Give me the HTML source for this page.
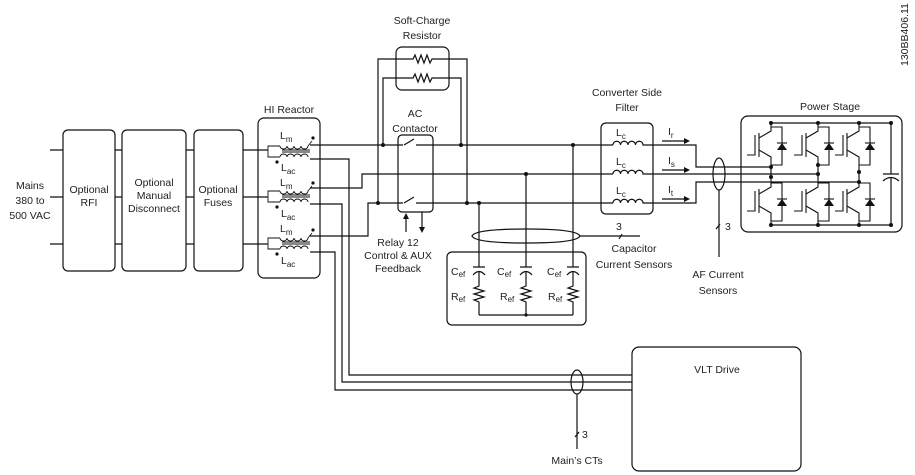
<!DOCTYPE html>
<html><head><meta charset="utf-8"><style>
html,body{margin:0;padding:0;background:#fff;}
svg{display:block;}
text{font-family:"Liberation Sans",sans-serif;font-size:10.5px;fill:#222;}
</style></head><body>
<svg width="915" height="475" viewBox="0 0 915 475" xmlns="http://www.w3.org/2000/svg">
<defs>
<g id="igbt">
<g fill="none" stroke="#111" stroke-width="1.1">
<path d="M0,0 V8 L-12,15"/>
<path d="M-12,10 V34"/>
<path d="M-16,12 V32 H-24"/>
<path d="M-12,27 L0,34 V46"/>
<path d="M0,4 H11 V42 H0"/>
<path d="M6,20 H16"/>
</g>
<polygon points="11,20 6,27 16,27" fill="#111"/>
</g>
<g id="lm">
<g fill="none" stroke="#111" stroke-width="0.9">
<path fill="none" d="M12,-4 a3.5,3 0 0 0 7,0 a3.5,3 0 0 0 7,0 a3.5,3 0 0 0 7,0 a3.5,3 0 0 0 7,0 L44,-9"/>
<path fill="none" d="M14,0 H42 M14,2 H42"/>
<path fill="none" d="M12,7 a3.5,3 0 0 1 7,0 a3.5,3 0 0 1 7,0 a3.5,3 0 0 1 7,0 a3.5,3 0 0 1 7,0"/>
<path fill="none" d="M12,-4 H0 V7 H12"/>
</g>
</g>
</defs>
<g fill="none" stroke="#111" stroke-width="1.2">
<rect x="63" y="130" width="52" height="141" rx="5"/>
<rect x="122" y="130" width="64" height="141" rx="5"/>
<rect x="194" y="130" width="49" height="141" rx="5"/>
<rect x="258" y="118" width="62" height="160" rx="6"/>
<path d="M50,150 H63 M115,150 H122 M186,150 H194 M243,150 H268"/>
<path d="M50,197 H63 M115,197 H122 M186,197 H194 M243,197 H268"/>
<path d="M50,244 H63 M115,244 H122 M186,244 H194 M243,244 H268"/>
<rect x="396" y="47" width="53" height="43" rx="6"/>
<path d="M378,203 V59 H413 l2,-4 l3,8 l3,-8 l3,8 l3,-8 l3,8 l2,-4 H467 V203"/>
<path d="M383,145 V78 H413 l2,-4 l3,8 l3,-8 l3,8 l3,-8 l3,8 l2,-4 H461 V145"/>
<rect x="398" y="135" width="35" height="77" rx="4"/>
<path d="M406,232 V216 M422,212 V230"/>
<path d="M310,145 H403 M404,145 L414,139 M416,145 H613"/>
<path d="M310,188 H362 V174 H613"/>
<path d="M310,236 H368 V203 H403 M404,203 L414,197 M416,203 H613"/>
<path d="M310,159 H349 V375 H632"/>
<path d="M310,204 H342 V382 H632"/>
<path d="M310,252 H335 V390 H632"/>
<path d="M613,145 a3.75,3.75 0 0 1 7.5,0 a3.75,3.75 0 0 1 7.5,0 a3.75,3.75 0 0 1 7.5,0 a3.75,3.75 0 0 1 7.5,0 H696 V167 H771"/>
<path d="M613,174 a3.75,3.75 0 0 1 7.5,0 a3.75,3.75 0 0 1 7.5,0 a3.75,3.75 0 0 1 7.5,0 a3.75,3.75 0 0 1 7.5,0 H818"/>
<path d="M613,203 a3.75,3.75 0 0 1 7.5,0 a3.75,3.75 0 0 1 7.5,0 a3.75,3.75 0 0 1 7.5,0 a3.75,3.75 0 0 1 7.5,0 H696 V182 H859"/>
<rect x="601" y="123" width="52" height="91" rx="5"/>
<path d="M662,141 H686 M662,170 H686 M662,199 H686"/>
<ellipse cx="719" cy="174" rx="6" ry="16"/>
<path d="M719,190 V257 M716,229 l4,-5"/>
<rect x="447" y="252" width="139" height="73" rx="5"/>
<path d="M479,203 V267 M473,267 H485 M473,275 Q479,268 485,275 M479,271 V286 l-5,2 l10,3 l-10,3 l10,3 l-10,3 l5,2 V315"/>
<path d="M526,174 V267 M520,267 H532 M520,275 Q526,268 532,275 M526,271 V286 l-5,2 l10,3 l-10,3 l10,3 l-10,3 l5,2 V315"/>
<path d="M573,145 V267 M567,267 H579 M567,275 Q573,268 579,275 M573,271 V286 l-5,2 l10,3 l-10,3 l10,3 l-10,3 l5,2 V315"/>
<path d="M479,315 H573"/>
<path d="M472,236 Q475,229 526,229 Q577,229 580,236 Q577,243 526,243 Q475,243 472,236 Z"/>
<path d="M580,236 H640 M619,239 l3,-5"/>
<rect x="741" y="116" width="161" height="116" rx="7"/>
<path d="M771,123 H891 M771,225 H891 M891,123 V174 M883,174 H899 M883,181 Q891,174 899,181 M891,177 V225"/>
<path d="M771,169 V179 M818,169 V179 M859,169 V179"/>
<rect x="632" y="347" width="169" height="124" rx="7"/>
<ellipse cx="577" cy="382" rx="6" ry="12"/>
<path d="M577,394 V449 M575,437 l4,-5"/>
</g>
<use href="#lm" x="268" y="150"/>
<use href="#lm" x="268" y="195"/>
<use href="#lm" x="268" y="242"/>
<use href="#igbt" x="771" y="123"/><use href="#igbt" x="771" y="179"/>
<use href="#igbt" x="818" y="123"/><use href="#igbt" x="818" y="179"/>
<use href="#igbt" x="859" y="123"/><use href="#igbt" x="859" y="179"/>
<g fill="#111">
<circle cx="313" cy="138" r="1.6"/><circle cx="277" cy="162" r="1.6"/>
<circle cx="313" cy="183" r="1.6"/><circle cx="277" cy="207" r="1.6"/>
<circle cx="313" cy="230" r="1.6"/><circle cx="277" cy="254" r="1.6"/>
<circle cx="383" cy="145" r="2"/><circle cx="461" cy="145" r="2"/><circle cx="573" cy="145" r="2"/>
<circle cx="526" cy="174" r="2"/><circle cx="378" cy="203" r="2"/><circle cx="467" cy="203" r="2"/><circle cx="479" cy="203" r="2"/>
<circle cx="526" cy="315" r="1.6"/>
<polygon points="406,213 403,219 409,219"/>
<polygon points="422,233 419,227 425,227"/>
<polygon points="690,141 684,138 684,144"/>
<polygon points="690,170 684,167 684,173"/>
<polygon points="690,199 684,196 684,202"/>
<circle cx="771" cy="123" r="2"/><circle cx="818" cy="123" r="2"/><circle cx="859" cy="123" r="2"/><circle cx="891" cy="123" r="2"/>
<circle cx="771" cy="225" r="2"/><circle cx="818" cy="225" r="2"/><circle cx="859" cy="225" r="2"/><circle cx="891" cy="225" r="2"/>
<circle cx="771" cy="167" r="2"/><circle cx="818" cy="174" r="2"/><circle cx="859" cy="182" r="2"/>
<circle cx="771" cy="177" r="2"/><circle cx="818" cy="165" r="2"/><circle cx="859" cy="172" r="2"/>
</g>
<g text-anchor="middle">
<text x="30" y="189">Mains</text><text x="30" y="204">380 to</text><text x="30" y="219">500 VAC</text>
<text x="89" y="193">Optional</text><text x="89" y="206">RFI</text>
<text x="154" y="186">Optional</text><text x="154" y="199">Manual</text><text x="154" y="212">Disconnect</text>
<text x="218" y="193">Optional</text><text x="218" y="206">Fuses</text>
<text x="289" y="113">HI Reactor</text>
<text x="422" y="24">Soft-Charge</text><text x="422" y="39">Resistor</text>
<text x="415" y="117">AC</text><text x="415" y="132">Contactor</text>
<text x="398" y="246">Relay 12</text><text x="398" y="259">Control &amp; AUX</text><text x="398" y="272">Feedback</text>
<text x="627" y="96">Converter Side</text><text x="627" y="111">Filter</text>
<text x="830" y="110">Power Stage</text>
<text x="634" y="252">Capacitor</text><text x="634" y="268">Current Sensors</text>
<text x="718" y="278">AF Current</text><text x="718" y="294">Sensors</text>
<text x="717" y="373">VLT Drive</text>
<text x="577" y="464">Main’s CTs</text>
</g>
<g>
<text x="280" y="139">L<tspan font-size="8" dy="3">m</tspan></text>
<text x="281" y="171">L<tspan font-size="8" dy="3">ac</tspan></text>
<text x="280" y="186">L<tspan font-size="8" dy="3">m</tspan></text>
<text x="281" y="217">L<tspan font-size="8" dy="3">ac</tspan></text>
<text x="280" y="232">L<tspan font-size="8" dy="3">m</tspan></text>
<text x="281" y="264">L<tspan font-size="8" dy="3">ac</tspan></text>
<text x="616" y="136">L<tspan font-size="8" dy="3">c</tspan></text>
<text x="616" y="165">L<tspan font-size="8" dy="3">c</tspan></text>
<text x="616" y="194">L<tspan font-size="8" dy="3">c</tspan></text>
<text x="668" y="135">I<tspan font-size="8" dy="3">r</tspan></text>
<text x="668" y="164">I<tspan font-size="8" dy="3">s</tspan></text>
<text x="668" y="193">I<tspan font-size="8" dy="3">t</tspan></text>
<text x="451" y="275">C<tspan font-size="8" dy="2">ef</tspan></text>
<text x="497" y="275">C<tspan font-size="8" dy="2">ef</tspan></text>
<text x="547" y="275">C<tspan font-size="8" dy="2">ef</tspan></text>
<text x="451" y="300">R<tspan font-size="8" dy="2">ef</tspan></text>
<text x="500" y="300">R<tspan font-size="8" dy="2">ef</tspan></text>
<text x="548" y="300">R<tspan font-size="8" dy="2">ef</tspan></text>
<text x="616" y="230">3</text>
<text x="725" y="230">3</text>
<text x="582" y="438">3</text>
<text x="0" y="0" font-size="9" transform="translate(908,66) rotate(-90)">130BB406.11</text>
</g>
</svg>
</body></html>
